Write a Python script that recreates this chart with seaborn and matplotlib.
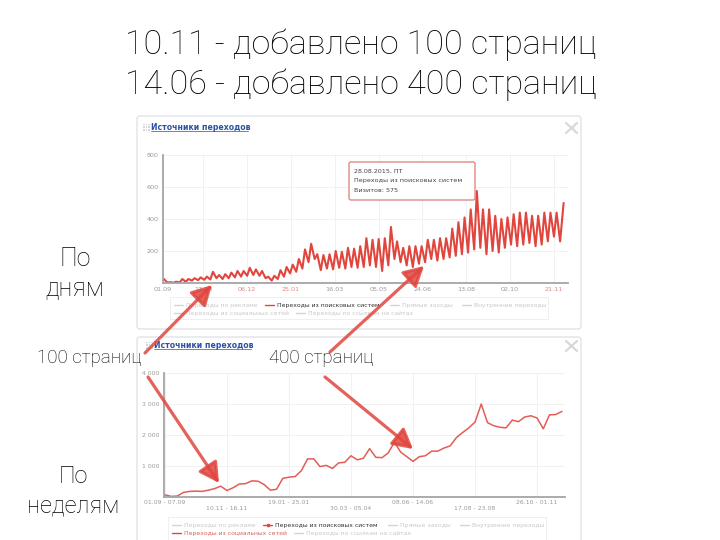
import numpy as np
import pandas as pd
import matplotlib
matplotlib.use('Agg')
import matplotlib.pyplot as plt
import seaborn as sns
from matplotlib.patches import FancyBboxPatch, FancyArrowPatch, Rectangle

# slide texts
title_lines = ['10.11 - добавлено 100 страниц', '14.06 - добавлено 400 страниц']
label_days = 'По\nдням'
label_weeks = 'По\nнеделям'
label_100 = '100 страниц'
label_400 = '400 страниц'
panel_title = 'Источники переходов'

# daily visits from search engines, one weekday high and one weekend low per week (from 01.09.2014)
daily_high = [25, 5, 8, 25, 25, 30, 35, 40, 70, 50,
              55, 65, 75, 75, 95, 85, 75, 40, 45, 80,
              100, 115, 150, 210, 245, 180, 175, 180, 200, 195,
              220, 215, 230, 280, 270, 275, 280, 350, 260, 220,
              230, 230, 230, 270, 270, 280, 280, 340, 380, 410,
              460, 575, 460, 460, 420, 400, 410, 430, 440, 440,
              420, 420, 440, 440, 440]
daily_low = [3, 2, 3, 8, 15, 18, 20, 22, 30, 25,
             30, 35, 40, 45, 50, 45, 30, 15, 25, 40,
             60, 70, 90, 130, 150, 80, 90, 85, 95, 90,
             100, 95, 100, 110, 100, 75, 110, 150, 130, 110,
             100, 120, 130, 150, 140, 150, 160, 170, 180, 190,
             210, 220, 180, 200, 190, 220, 240, 230, 240, 250,
             230, 240, 260, 290, 260]
last_day = 457
last_value = 500

day_ticks = [0, 46, 96, 146, 196, 246, 296, 346, 396, 446]
day_labels = ['01.09', '17.10', '06.12', '25.01', '16.03', '05.05', '24.06', '13.08', '02.10', '21.11']
weekend_labels = ['06.12', '25.01', '21.11']
day_yticks = [200, 400, 600, 800]

# weekly visits
weekly_visits = [70, 20, 30, 150, 180, 190, 180, 220, 270, 350,
                 210, 300, 420, 430, 520, 510, 400, 220, 250, 600,
                 640, 660, 850, 1230, 1230, 980, 1020, 920, 1100, 1120,
                 1330, 1200, 1250, 1560, 1280, 1270, 1420, 1770, 1450, 1300,
                 1150, 1300, 1330, 1480, 1480, 1580, 1650, 1920, 2080, 2230,
                 2420, 3000, 2400, 2300, 2250, 2230, 2480, 2430, 2580, 2620,
                 2550, 2200, 2650, 2660, 2760]
week_ticks = [0, 10, 20, 30, 40, 50, 60]
week_labels = ['01.09 - 07.09', '10.11 - 16.11', '19.01 - 25.01', '30.03 - 05.04',
               '08.06 - 14.06', '17.08 - 23.08', '26.10 - 01.11']
week_yticks = [1000, 2000, 3000, 4000]
week_ylabels = ['1 000', '2 000', '3 000', '4 000']

tooltip_lines = ['28.08.2015, ПТ', 'Переходы из поисковых систем', 'Визитов: 575']

legend_row1 = ['Переходы по рекламе', 'Переходы из поисковых систем', 'Прямые заходы', 'Внутренние переходы']
legend_row2 = ['Переходы из социальных сетей', 'Переходы по ссылкам на сайтах']

RED = '#e0463e'
FADED = '#c9c9c9'
INK = '#000000'
SLIDE_FONT = ['Roboto', 'DejaVu Sans']
CHART_FONT = ['DejaVu Sans']

sns.set_style('white')
plt.rcParams['font.family'] = CHART_FONT

W, H = 720, 540


def rect(l, t, r, b):
    return [l / W, 1 - b / H, (r - l) / W, (b - t) / H]


days, vals = [], []
for w, (hi, lo) in enumerate(zip(daily_high, daily_low)):
    days += [7 * w + 1, 7 * w + 5]
    vals += [hi, lo]
days.append(last_day)
vals.append(last_value)
daily_df = pd.DataFrame({'day': days, 'visits': vals})
weekly_df = pd.DataFrame({'week': np.arange(len(weekly_visits)), 'visits': weekly_visits})

fig = plt.figure(figsize=(7.2, 5.4), dpi=100)
fig.patch.set_facecolor('white')

bg = fig.add_axes([0, 0, 1, 1], zorder=0)
bg.set_xlim(0, W)
bg.set_ylim(H, 0)
bg.axis('off')

fg = fig.add_axes([0, 0, 1, 1], zorder=5)
fg.set_xlim(0, W)
fg.set_ylim(H, 0)
fg.axis('off')
fg.patch.set_alpha(0)


def panel(top, bottom, title_x, title_y, legend_top, legend_bottom, legend_x, second_red):
    bg.add_patch(FancyBboxPatch((137, top), 444, bottom - top, boxstyle='round,pad=0,rounding_size=3',
                                fc='white', ec='#dbe1e8', lw=0.9))
    # grid icon
    for i in range(3):
        for j in range(3):
            bg.add_patch(Rectangle((title_x - 8 + i * 2.6, title_y - 3.5 + j * 2.6), 1.8, 1.8,
                                   fc='#d6d6d6', ec='none'))
    bg.text(title_x, title_y, panel_title, fontsize=5.6, color='#2b52a3', weight='bold',
            va='center', ha='left')
    bg.plot([title_x, title_x + 97], [title_y + 4, title_y + 4], color='#2b52a3', lw=0.5)
    # close cross
    cy = title_y + 1
    bg.plot([566, 577], [cy - 5, cy + 5], color='#d8d8d8', lw=1.6)
    bg.plot([566, 577], [cy + 5, cy - 5], color='#d8d8d8', lw=1.6)
    # legend
    bg.add_patch(Rectangle((legend_x - 4, legend_top), 378, legend_bottom - legend_top,
                           fc='none', ec='#ececec', lw=0.6))
    r1 = legend_top + 8
    r2 = legend_top + 16
    xs1 = [legend_x, legend_x + 91, legend_x + 216, legend_x + 288]
    for k, (x, txt) in enumerate(zip(xs1, legend_row1)):
        active = k == 1
        bg.plot([x, x + 9], [r1, r1], color=RED if active else '#d4d4d4', lw=1.0)
        if active and second_red:
            bg.plot([x + 4.5], [r1], marker='o', ms=1.6, color=RED)
        bg.text(x + 12, r1, txt, fontsize=4.4, color='#333333' if active else FADED, va='center')
    xs2 = [legend_x, legend_x + 122]
    for k, (x, txt) in enumerate(zip(xs2, legend_row2)):
        red = second_red and k == 0
        bg.plot([x, x + 9], [r2, r2], color=RED if red else '#d4d4d4', lw=1.0)
        bg.text(x + 12, r2, txt, fontsize=4.4, color='#d9605a' if red else FADED, va='center')


panel(116, 329, 151, 127, 297, 319, 174, False)
panel(337, 545, 154, 345, 517, 545, 172, True)


def style_axis(ax):
    ax.grid(True, color='#efefef', lw=0.6)
    for s in ['top', 'right']:
        ax.spines[s].set_visible(False)
    for s in ['left', 'bottom']:
        ax.spines[s].set_color('#a5a5a5')
        ax.spines[s].set_linewidth(1.3)
    ax.tick_params(length=0, labelsize=4.6, colors='#9a9a9a', pad=3)
    ax.set_xlabel('')
    ax.set_ylabel('')


# daily chart
ax1 = fig.add_axes(rect(163, 155, 568, 283), zorder=1)
sns.lineplot(data=daily_df, x='day', y='visits', ax=ax1, color=RED, lw=1.5)
ax1.set_xlim(0, 462)
ax1.set_ylim(0, 800)
ax1.set_yticks(day_yticks)
ax1.set_xticks(day_ticks)
ax1.set_xticklabels(day_labels)
style_axis(ax1)
for lab in ax1.get_xticklabels():
    if lab.get_text() in weekend_labels:
        lab.set_color('#d98a85')

# weekly chart
ax2 = fig.add_axes(rect(164, 373, 565, 497), zorder=1)
sns.lineplot(data=weekly_df, x='week', y='visits', ax=ax2, color='#e35d57', lw=1.1)
ax2.set_xlim(-0.15, 64.5)
ax2.set_ylim(0, 4000)
ax2.set_yticks(week_yticks)
ax2.set_yticklabels(week_ylabels)
ax2.set_xticks(week_ticks)
ax2.set_xticklabels([lab if i % 2 == 0 else '\n' + lab for i, lab in enumerate(week_labels)])
style_axis(ax2)
ax2.tick_params(axis='x', pad=2, labelsize=4.4)
ax2.tick_params(axis='y', labelsize=4.4)

# tooltip
fg.add_patch(FancyBboxPatch((349, 162), 126, 38, boxstyle='round,pad=0,rounding_size=2',
                            fc='white', ec='#df7b76', lw=0.9))
for i, line in enumerate(tooltip_lines):
    fg.text(354, 171 + i * 9.5, line, fontsize=4.6, color='#444444', va='center')

# slide texts
fg.text(361, 45, title_lines[0], fontsize=24.5, ha='center', va='center', family=SLIDE_FONT,
        weight='light', color=INK)
fg.text(361, 85, title_lines[1], fontsize=24.5, ha='center', va='center', family=SLIDE_FONT,
        weight='light', color=INK)
fg.text(75, 274, label_days, fontsize=18, ha='center', va='center', family=SLIDE_FONT,
        weight='light', linespacing=1.3, color=INK)
fg.text(73, 491, label_weeks, fontsize=17, ha='center', va='center', family=SLIDE_FONT,
        weight='light', linespacing=1.35, color=INK)
fg.text(89, 358, label_100, fontsize=13.5, ha='center', va='center', family=SLIDE_FONT,
        weight='light', color=INK)
fg.text(321, 358, label_400, fontsize=13.5, ha='center', va='center', family=SLIDE_FONT,
        weight='light', color=INK)

# red arrows
arrows = [((145, 353), (212, 285)),
          ((148, 377), (219, 483)),
          ((330, 352), (424, 266)),
          ((325, 377), (413, 449))]
for start, end in arrows:
    fg.add_patch(FancyArrowPatch(start, end, arrowstyle='-|>,head_length=1.0,head_width=0.55',
                                 mutation_scale=12, lw=2.3, color=RED, alpha=0.85,
                                 shrinkA=0, shrinkB=0))

fig.savefig('out.png', dpi=100, facecolor='white')
